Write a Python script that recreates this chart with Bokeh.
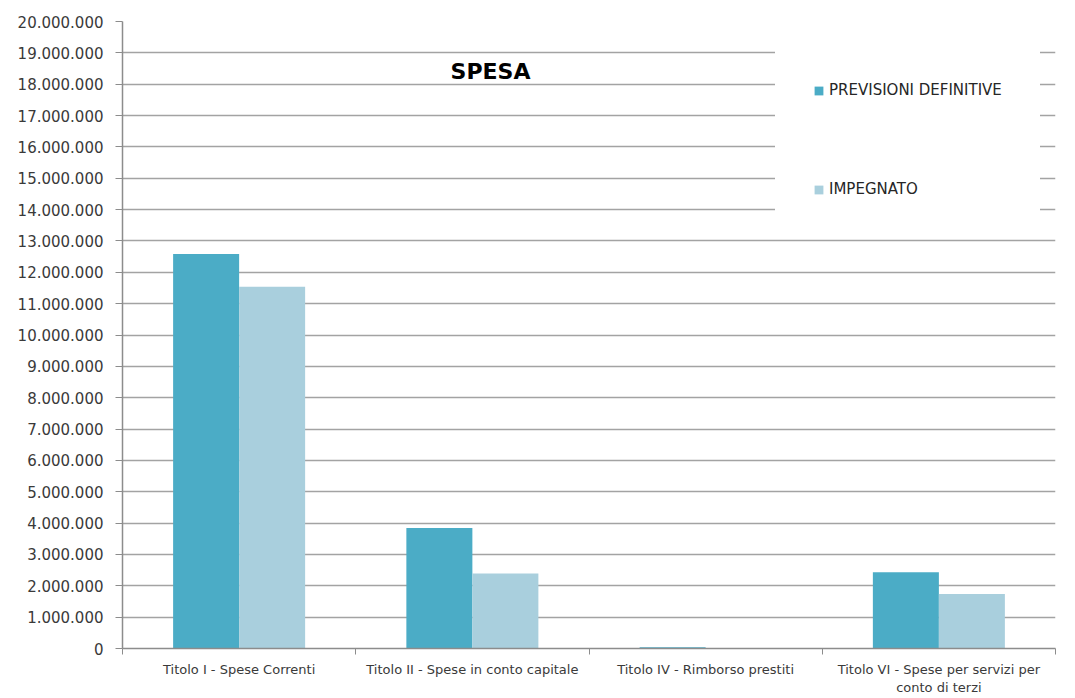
from bokeh.plotting import figure
from bokeh.models import Range1d, FixedTicker, Legend, LegendItem, Label, ColumnDataSource
from bokeh.embed import file_html
from bokeh.resources import INLINE

# ---- data ----
categories = [
    "Titolo I - Spese Correnti",
    "Titolo II - Spese in conto capitale",
    "Titolo IV - Rimborso prestiti",
    "Titolo VI - Spese per servizi per\nconto di terzi",
]
previsioni_definitive = [12_580_000, 3_840_000, 40_000, 2_430_000]
impegnato = [11_540_000, 2_390_000, 15_000, 1_740_000]
y_ticks = list(range(0, 20_000_001, 1_000_000))
y_tick_labels = [f"{v:,}".replace(",", ".") for v in y_ticks]

series_names = ["PREVISIONI DEFINITIVE", "IMPEGNATO"]
colors = ["#4BACC6", "#A9CFDD"]

# ---- layout ----
n = len(categories)
centers = [i + 0.5 for i in range(n)]
bar_w = 0.283

p = figure(
    width=1075, height=698,
    x_range=Range1d(0, n), y_range=Range1d(0, 20_000_000),
    output_backend="svg", toolbar_location=None,
    min_border_left=122, min_border_right=20, min_border_top=21, min_border_bottom=50,
)
p.outline_line_color = None
p.background_fill_color = "white"
p.border_fill_color = "white"

src = ColumnDataSource(dict(
    x1=[c - bar_w / 2 for c in centers],
    x2=[c + bar_w / 2 for c in centers],
    prev=previsioni_definitive,
    imp=impegnato,
))
r1 = p.vbar(x="x1", top="prev", width=bar_w, source=src, fill_color=colors[0], line_color=None)
r2 = p.vbar(x="x2", top="imp", width=bar_w, source=src, fill_color=colors[1], line_color=None)

# y axis
p.yaxis.ticker = FixedTicker(ticks=y_ticks)
p.yaxis.major_label_overrides = {t: l for t, l in zip(y_ticks, y_tick_labels)}
p.yaxis.major_label_text_font = "DejaVu Sans"
p.yaxis.major_label_text_font_size = "15px"
p.yaxis.major_label_text_color = "#3a3a3a"
p.yaxis.major_tick_out = 7
p.yaxis.major_tick_in = 0
p.yaxis.minor_tick_line_color = None
p.yaxis.major_tick_line_color = "#8c8c8c"
p.yaxis.axis_line_color = "#8c8c8c"
p.yaxis.axis_line_width = 1.5
p.yaxis.major_label_standoff = 12

# x axis
p.xaxis.ticker = FixedTicker(ticks=centers, minor_ticks=list(range(n + 1)))
p.xaxis.major_label_overrides = {c: l for c, l in zip(centers, categories)}
p.xaxis.major_label_text_font = "DejaVu Sans"
p.xaxis.major_label_text_font_size = "13px"
p.xaxis.major_label_text_color = "#3a3a3a"
p.xaxis.major_tick_line_color = None
p.xaxis.major_tick_out = 0
p.xaxis.major_tick_in = 0
p.xaxis.minor_tick_out = 6
p.xaxis.minor_tick_in = 0
p.xaxis.minor_tick_line_color = "#8c8c8c"
p.xaxis.axis_line_color = "#8c8c8c"
p.xaxis.axis_line_width = 1.5
p.xaxis.major_label_standoff = 7

# grid
p.xgrid.visible = False
p.ygrid.grid_line_color = "#a3a3a3"
p.ygrid.grid_line_width = 1.5

# legend
legend = Legend(
    items=[LegendItem(label=series_names[0], renderers=[r1]),
           LegendItem(label=series_names[1], renderers=[r2])],
    location=(653, 411),
    title=" ", title_text_font_size="10px", title_standoff=7,
    padding=37, spacing=79,
    label_height=20, glyph_height=11, glyph_width=11, label_standoff=5,
    label_text_font="DejaVu Sans", label_text_font_size="15px", label_text_color="#262626",
    background_fill_color="white", background_fill_alpha=1.0,
    border_line_color="white", border_line_alpha=1.0, border_line_width=1,
)
p.add_layout(legend)

# title inside plot area
p.add_layout(Label(
    x=368, y=577, x_units="screen", y_units="screen", text="SPESA",
    text_font="DejaVu Sans", text_font_style="bold", text_font_size="22px",
    text_color="#000000", text_align="center", text_baseline="middle",
))

open("out.html", "w").write(file_html(p, INLINE))
